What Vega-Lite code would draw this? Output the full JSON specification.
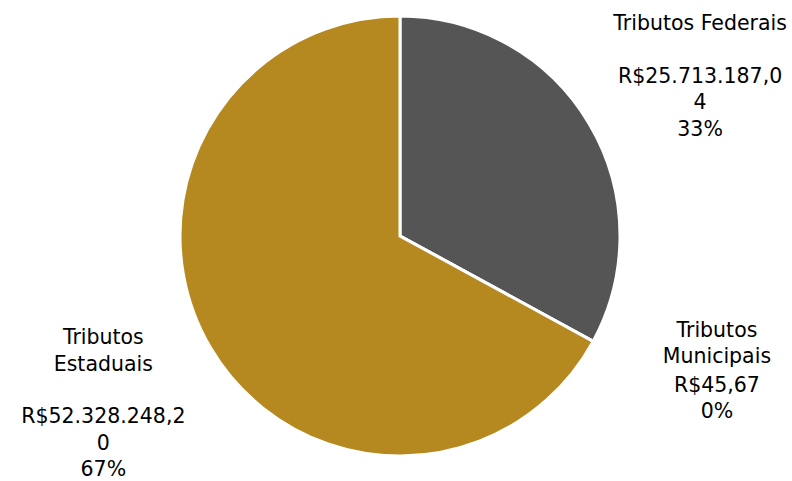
{
  "$schema": "https://vega.github.io/schema/vega-lite/v6.json",
  "width": 784,
  "height": 472,
  "autosize": {"type": "none"},
  "padding": {"left": 8, "top": 0, "right": 0, "bottom": 9},
  "background": "white",
  "view": {"stroke": null},
  "data": {
    "values": [
      {"nome": "Tributos Federais", "ordem": 1, "valor": 25713187.04, "titulo": "Tributos Federais", "rotulo": "R$25.713.187,0\n4\n33%"},
      {"nome": "Tributos Municipais", "ordem": 2, "valor": 45.67, "titulo": "Tributos\nMunicipais", "rotulo": "R$45,67\n0%"},
      {"nome": "Tributos Estaduais", "ordem": 3, "valor": 52328248.20, "titulo": "Tributos\nEstaduais", "rotulo": "R$52.328.248,2\n0\n67%"}
    ]
  },
  "encoding": {
    "theta": {"field": "valor", "type": "quantitative", "stack": true},
    "order": {"field": "ordem", "type": "quantitative"}
  },
  "layer": [
    {
      "mark": {"type": "arc", "outerRadius": 220, "stroke": "white", "strokeWidth": 3},
      "encoding": {
        "color": {
          "field": "nome", "type": "nominal",
          "scale": {"domain": ["Tributos Federais", "Tributos Municipais", "Tributos Estaduais"], "range": ["#555555", "#7a7a7a", "#B5891F"]},
          "legend": null
        }
      }
    },
    {
      "mark": {"type": "text", "radius": 349, "dy": -34, "align": "center", "baseline": "middle", "font": "DejaVu Sans", "fontSize": 20.5, "lineHeight": 26.5, "lineBreak": "\n", "color": "black"},
      "encoding": {"text": {"condition": {"test": "datum.ordem == 1", "field": "titulo"}, "value": ""}}
    },
    {
      "mark": {"type": "text", "radius": 349, "dy": 19, "align": "center", "baseline": "middle", "font": "DejaVu Sans", "fontSize": 20.5, "lineHeight": 26.5, "lineBreak": "\n", "color": "black"},
      "encoding": {"text": {"condition": {"test": "datum.ordem == 1", "field": "rotulo"}, "value": ""}}
    },
    {
      "mark": {"type": "text", "radius": 361, "dy": -78, "align": "center", "baseline": "middle", "font": "DejaVu Sans", "fontSize": 20.5, "lineHeight": 26.5, "lineBreak": "\n", "color": "black"},
      "encoding": {"text": {"condition": {"test": "datum.ordem == 2", "field": "titulo"}, "value": ""}}
    },
    {
      "mark": {"type": "text", "radius": 361, "dy": -23, "align": "center", "baseline": "middle", "font": "DejaVu Sans", "fontSize": 20.5, "lineHeight": 26.5, "lineBreak": "\n", "color": "black"},
      "encoding": {"text": {"condition": {"test": "datum.ordem == 2", "field": "rotulo"}, "value": ""}}
    },
    {
      "mark": {"type": "text", "radius": 345, "dy": -74, "align": "center", "baseline": "middle", "font": "DejaVu Sans", "fontSize": 20.5, "lineHeight": 26.5, "lineBreak": "\n", "color": "black"},
      "encoding": {"text": {"condition": {"test": "datum.ordem == 3", "field": "titulo"}, "value": ""}}
    },
    {
      "mark": {"type": "text", "radius": 345, "dy": 5, "align": "center", "baseline": "middle", "font": "DejaVu Sans", "fontSize": 20.5, "lineHeight": 26.5, "lineBreak": "\n", "color": "black"},
      "encoding": {"text": {"condition": {"test": "datum.ordem == 3", "field": "rotulo"}, "value": ""}}
    }
  ]
}
